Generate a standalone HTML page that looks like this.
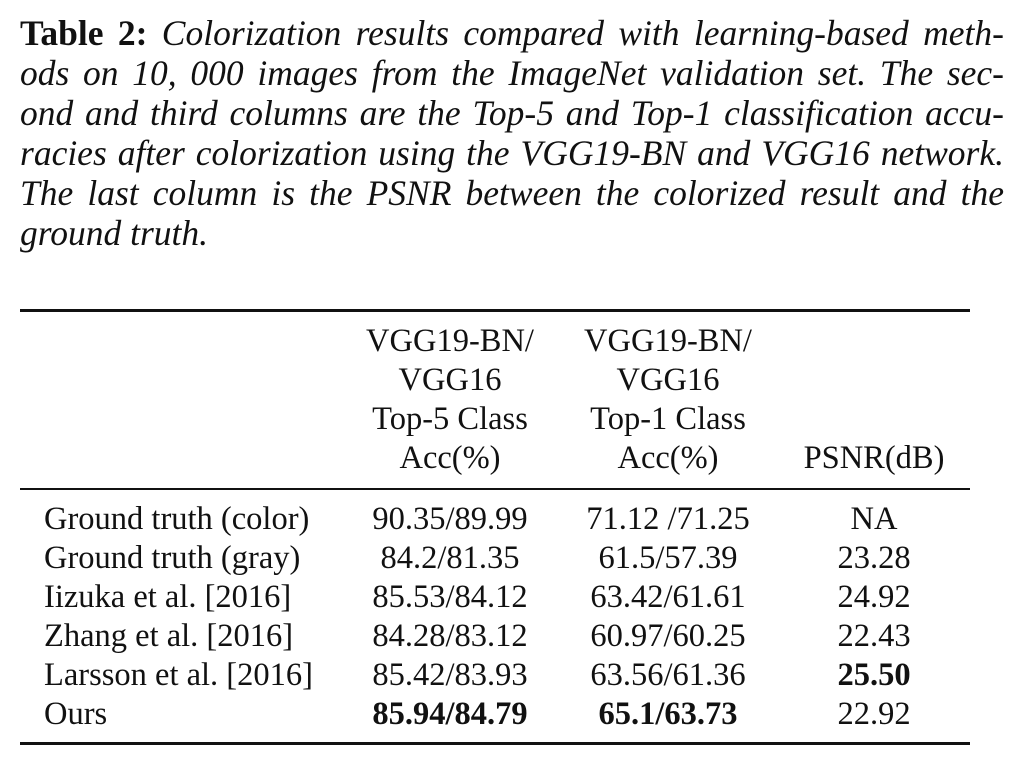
<!DOCTYPE html>
<html><head><meta charset="utf-8"><style>
body{margin:0;width:1009px;height:766px;background:#fff;position:relative;font-family:"Liberation Serif",serif;color:#111;overflow:hidden}
.cap{position:absolute;left:20px;width:984px;font-size:35.5px;font-style:italic;line-height:40px;white-space:nowrap;text-align:justify;text-align-last:justify}
.cap b{font-style:normal}
.t{position:absolute;font-size:32.5px;line-height:39px;white-space:nowrap}
.c{position:absolute;font-size:32.5px;line-height:39px;white-space:nowrap;text-align:center;width:240px}
.rule{position:absolute;left:20px;width:950px;background:#111}
</style></head><body>
<div class="cap" style="top:13px"><b>Table 2:</b> Colorization results compared with learning-based meth-</div>
<div class="cap" style="top:53px">ods on 10, 000 images from the ImageNet validation set. The sec-</div>
<div class="cap" style="top:93px">ond and third columns are the Top-5 and Top-1 classification accu-</div>
<div class="cap" style="top:133px">racies after colorization using the VGG19-BN and VGG16 network.</div>
<div class="cap" style="top:173px">The last column is the PSNR between the colorized result and the</div>
<div class="cap" style="top:213px;text-align:left;text-align-last:left">ground truth.</div>

<div class="rule" style="top:309px;height:3px"></div>
<div class="c" style="left:330px;top:322px">VGG19-BN/<br>VGG16<br>Top-5 Class<br>Acc(%)</div>
<div class="c" style="left:548px;top:322px">VGG19-BN/<br>VGG16<br>Top-1 Class<br>Acc(%)</div>
<div class="c" style="left:754px;top:439px">PSNR(dB)</div>
<div class="rule" style="top:488px;height:2px"></div>

<div class="t" style="left:44px;top:500px">Ground truth (color)<br>Ground truth (gray)<br>Iizuka et al. [2016]<br>Zhang et al. [2016]<br>Larsson et al. [2016]<br>Ours</div>
<div class="c" style="left:330px;top:500px">90.35/89.99<br>84.2/81.35<br>85.53/84.12<br>84.28/83.12<br>85.42/83.93<br><b>85.94/84.79</b></div>
<div class="c" style="left:548px;top:500px">71.12 /71.25<br>61.5/57.39<br>63.42/61.61<br>60.97/60.25<br>63.56/61.36<br><b>65.1/63.73</b></div>
<div class="c" style="left:754px;top:500px">NA<br>23.28<br>24.92<br>22.43<br><b>25.50</b><br>22.92</div>
<div class="rule" style="top:742px;height:3px"></div>
</body></html>
